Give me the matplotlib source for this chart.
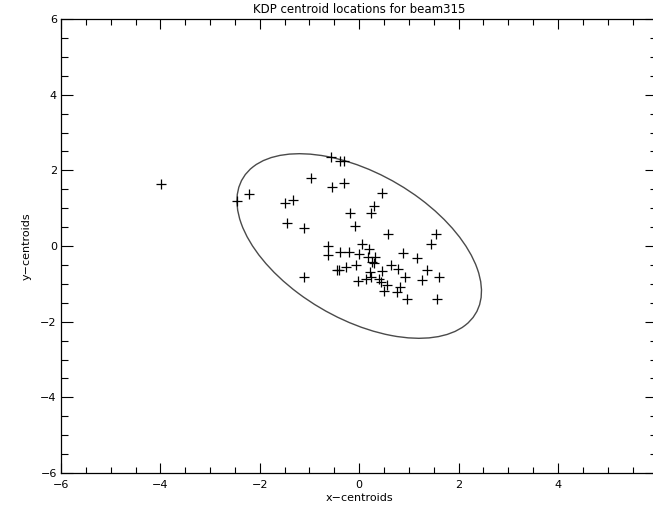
import matplotlib
matplotlib.use("Agg")
import matplotlib.pyplot as plt
from matplotlib.patches import Ellipse
from matplotlib.ticker import MultipleLocator, FixedLocator

# Centroid data
x_cent = [-3.98, -2.45, -2.22, -1.50, -1.33, -1.46, -1.12, -1.12, -0.97, -0.56,
          -0.39, -0.31, -0.54, -0.30, 0.45, 0.30, 0.23, -0.19, -0.09, 0.57,
          -0.62, 0.06, 0.19, -0.62, -0.39, -0.20, 0.00, 0.17, 0.32, 0.88,
          1.17, 0.29, 1.55, 1.45, -0.45, -0.41, -0.26, -0.07, 0.64, 0.79,
          1.37, 0.21, 0.45, -0.02, 0.14, 0.24, 0.40, 0.44, 0.56, 0.93,
          1.26, 1.60, 0.49, 0.76, 0.83, 0.96, 1.56, 0.26]
y_cent = [1.65, 1.19, 1.38, 1.14, 1.22, 0.62, 0.48, -0.83, 1.80, 2.34,
          2.24, 2.24, 1.56, 1.67, 1.41, 1.07, 0.88, 0.88, 0.53, 0.31,
          0.00, 0.04, -0.08, -0.24, -0.17, -0.17, -0.22, -0.28, -0.30, -0.19,
          -0.33, -0.46, 0.31, 0.05, -0.63, -0.63, -0.56, -0.50, -0.50, -0.62,
          -0.63, -0.70, -0.66, -0.93, -0.88, -0.81, -0.88, -0.95, -1.02, -0.83,
          -0.91, -0.83, -1.19, -1.22, -1.09, -1.41, -1.39, -0.41]

# Ellipse parameters (center, full width, full height, rotation in degrees)
ell_center = (0.0, 0.0)
ell_width = 5.98
ell_height = 3.50
ell_angle = -44.5

title = "KDP centroid locations for beam315"
xlabel = "x\u2212centroids"
ylabel = "y\u2212centroids"
xlim = (-6, 6)
ylim = (-6, 6)
xticks = [-6, -4, -2, 0, 2, 4]
yticks = [-6, -4, -2, 0, 2, 4, 6]

W, H = 653, 512
fig = plt.figure(figsize=(W / 100, H / 100), dpi=100)
left, right, bottom, top = 61, 657.4, 473, 19
ax = fig.add_axes([left / W, (H - bottom) / H, (right - left) / W, (bottom - top) / H])

ax.plot(x_cent, y_cent, linestyle="none", marker="+", color="black",
        markersize=6.5, markeredgewidth=0.9)
ax.add_patch(Ellipse(ell_center, ell_width, ell_height, angle=ell_angle,
                     fill=False, edgecolor="#4a4a4a", linewidth=1.0))

ax.set_xlim(*xlim)
ax.set_ylim(*ylim)
ax.xaxis.set_major_locator(FixedLocator(xticks))
ax.xaxis.set_minor_locator(MultipleLocator(0.5))
ax.yaxis.set_major_locator(FixedLocator(yticks))
ax.yaxis.set_minor_locator(MultipleLocator(0.5))

ax.tick_params(axis="both", which="both", direction="in", top=True, right=True,
               width=0.8, colors="black", labelsize=8)
ax.tick_params(axis="x", which="major", length=7.2, pad=5)
ax.tick_params(axis="x", which="minor", length=4.3)
ax.tick_params(axis="y", which="major", length=8.6, pad=3)
ax.tick_params(axis="y", which="minor", length=5.0)
for s in ax.spines.values():
    s.set_linewidth(0.9)

ax.set_title(title, fontsize=8.5, pad=4)
ax.set_xlabel(xlabel, fontsize=8, labelpad=2)
ax.set_ylabel(ylabel, fontsize=8, labelpad=6)

fig.savefig("out.png", dpi=100)
